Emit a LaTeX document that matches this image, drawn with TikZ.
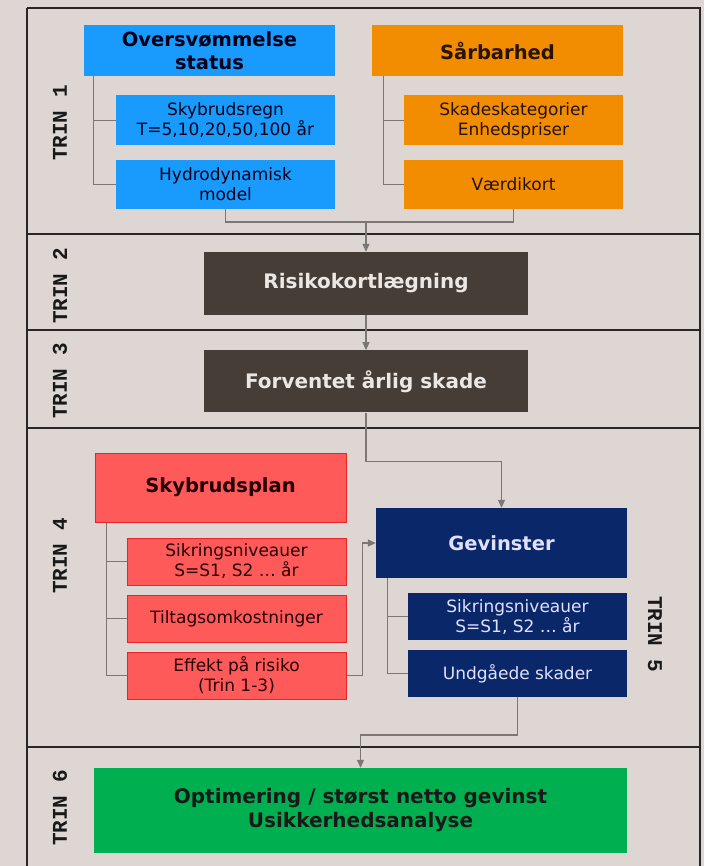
\documentclass[tikz,border=0pt]{standalone}
\usepackage{fontspec}
\setmainfont{DejaVu Sans}
\newfontfamily\trinfont{Liberation Mono}
\usepackage{tikz}
\usetikzlibrary{arrows.meta, positioning, calc}
\definecolor{bgcol}{RGB}{221,214,211}
\definecolor{framecol}{RGB}{40,38,38}
\definecolor{lnkgray}{RGB}{122,119,117}
\definecolor{flblue}{RGB}{24,155,252}
\definecolor{vorange}{RGB}{242,140,0}
\definecolor{rkbrown}{RGB}{70,61,55}
\definecolor{plred}{RGB}{255,90,90}
\definecolor{plredline}{RGB}{232,36,40}
\definecolor{gvnavy}{RGB}{10,40,105}
\definecolor{opgreen}{RGB}{0,176,80}

\begin{document}
\begin{tikzpicture}[
        x=1pt, y=-1pt,
        head/.style={rectangle, inner sep=0pt, minimum width=251pt, minimum height=51pt,
                     align=center, font=\fontsize{19.5}{23}\selectfont\bfseries},
        sub/.style={rectangle, inner sep=0pt, minimum width=219pt, minimum height=47pt,
                    align=center, font=\fontsize{17}{20}\selectfont},
        wide/.style={rectangle, inner sep=0pt, minimum width=324pt, minimum height=62pt,
                     align=center, font=\fontsize{20}{24}\selectfont\bfseries},
        blue/.style={fill=flblue, text=black!90!blue},
        orange/.style={fill=vorange, text=black!85!orange},
        brown/.style={fill=rkbrown, text=bgcol!60!white},
        red/.style={fill=plred, draw=plredline, line width=1pt, text=black!85!red},
        navy/.style={fill=gvnavy, text=white!88!blue},
        trin/.style={font=\trinfont\fontsize{21}{24}\selectfont\bfseries, text=black!90},
        frame/.style={draw=framecol, line width=1.6pt},
        link/.style={draw=lnkgray, line width=1.1pt},
        arr/.style={link, -{Triangle[length=8pt, width=7pt]}}
      ]
        \useasboundingbox (0,0) rectangle (704,866);
        \fill[bgcol] (0,0) rectangle (704,866);

        \draw[frame, line width=1.1pt] (27,866) -- (27,8);
        \draw[frame] (27,8) -- (700,8) -- (700,866);
        \draw[frame] (27,234) -- (700,234);
        \draw[frame] (27,330) -- (700,330);
        \draw[frame] (27,428) -- (700,428);
        \draw[frame] (27,747) -- (700,747);

        \node[trin, rotate=90] (trin1) at (60,123) {TRIN 1};
        \node[trin, rotate=90] (trin2) at (60,286) {TRIN 2};
        \node[trin, rotate=90] (trin3) at (60,381) {TRIN 3};
        \node[trin, rotate=90] (trin4) at (60,556) {TRIN 4};
        \node[trin, rotate=-90] (trin5) at (655,634) {TRIN 5};
        \node[trin, rotate=90] (trin6) at (60,808) {TRIN 6};

        \node[head, blue] (oversv) at (209.5,50.5) {Oversvømmelse\\status};
        \node[sub, blue, minimum height=50pt, below=19pt of oversv.south east, anchor=north east] (skyregn)
              {Skybrudsregn\\T=5,10,20,50,100 år};
        \node[sub, blue, minimum height=49pt, below=14pt of skyregn] (hydro) {Hydrodynamisk\\model};

        \node[head, orange] (saarbar) at (497.5,50.5) {Sårbarhed};
        \node[sub, orange, minimum height=50pt, below=19pt of saarbar.south east, anchor=north east] (skadekat)
              {Skadeskategorier\\Enhedspriser};
        \node[sub, orange, minimum height=49pt, below=14pt of skadekat] (vaerdi) {Værdikort};

        \node[wide, brown, minimum height=63pt] (risiko) at (366,283.5) {Risikokortlægning};
        \node[wide, brown, below=35pt of risiko] (forvent) {Forventet årlig skade};

        \node[head, red, minimum height=69pt] (skyplan) at (220.5,487.5) {Skybrudsplan};
        \node[sub, red, below=15pt of skyplan.south east, anchor=north east] (sikr4)
              {Sikringsniveauer\\S=S1, S2 … år};
        \node[sub, red, below=9pt of sikr4] (tiltag) {Tiltagsomkostninger};
        \node[sub, red, below=9pt of tiltag] (effekt) {Effekt på risiko\\(Trin 1-3)};

        \node[head, navy, minimum height=70pt] (gevinst) at (501.5,543) {Gevinster};
        \node[sub, navy, below=15pt of gevinst.south east, anchor=north east] (sikr5)
              {Sikringsniveauer\\S=S1, S2 … år};
        \node[sub, navy, below=9pt of sikr5] (undgaa) {Undgåede skader};

        \node[wide, fill=opgreen, text=black!90, minimum width=533pt, minimum height=85pt] (optim)
              at (360.5,810.5) {Optimering / størst netto gevinst\\Usikkerhedsanalyse};

        \draw[link] (oversv.south west) ++(10,0) |- (skyregn.west);
        \draw[link] (oversv.south west) ++(10,0) |- (hydro.west);
        \draw[link] (saarbar.south west) ++(12,0) |- (skadekat.west);
        \draw[link] (saarbar.south west) ++(12,0) |- (vaerdi.west);

        \coordinate (join1) at (366,222);
        \draw[link] (hydro.south) |- (join1) -| (vaerdi.south);
        \draw[arr] (join1) -- (risiko.north);
        \draw[arr] (risiko) -- (forvent);
        \draw[arr] (forvent.south) -- ++(0,49) -| (gevinst.north);

        \draw[link] (skyplan.south west) ++(12,0) |- (sikr4.west);
        \draw[link] (skyplan.south west) ++(12,0) |- (tiltag.west);
        \draw[link] (skyplan.south west) ++(12,0) |- (effekt.west);
        \draw[arr] (effekt.east) -- ++(16,0) |- (gevinst.west);

        \draw[link] (gevinst.south west) ++(12,0) |- (sikr5.west);
        \draw[link] (gevinst.south west) ++(12,0) |- (undgaa.west);
        \draw[arr] (undgaa.south) -- ++(0,38) -| (optim.north);
      \end{tikzpicture}
\end{document}
